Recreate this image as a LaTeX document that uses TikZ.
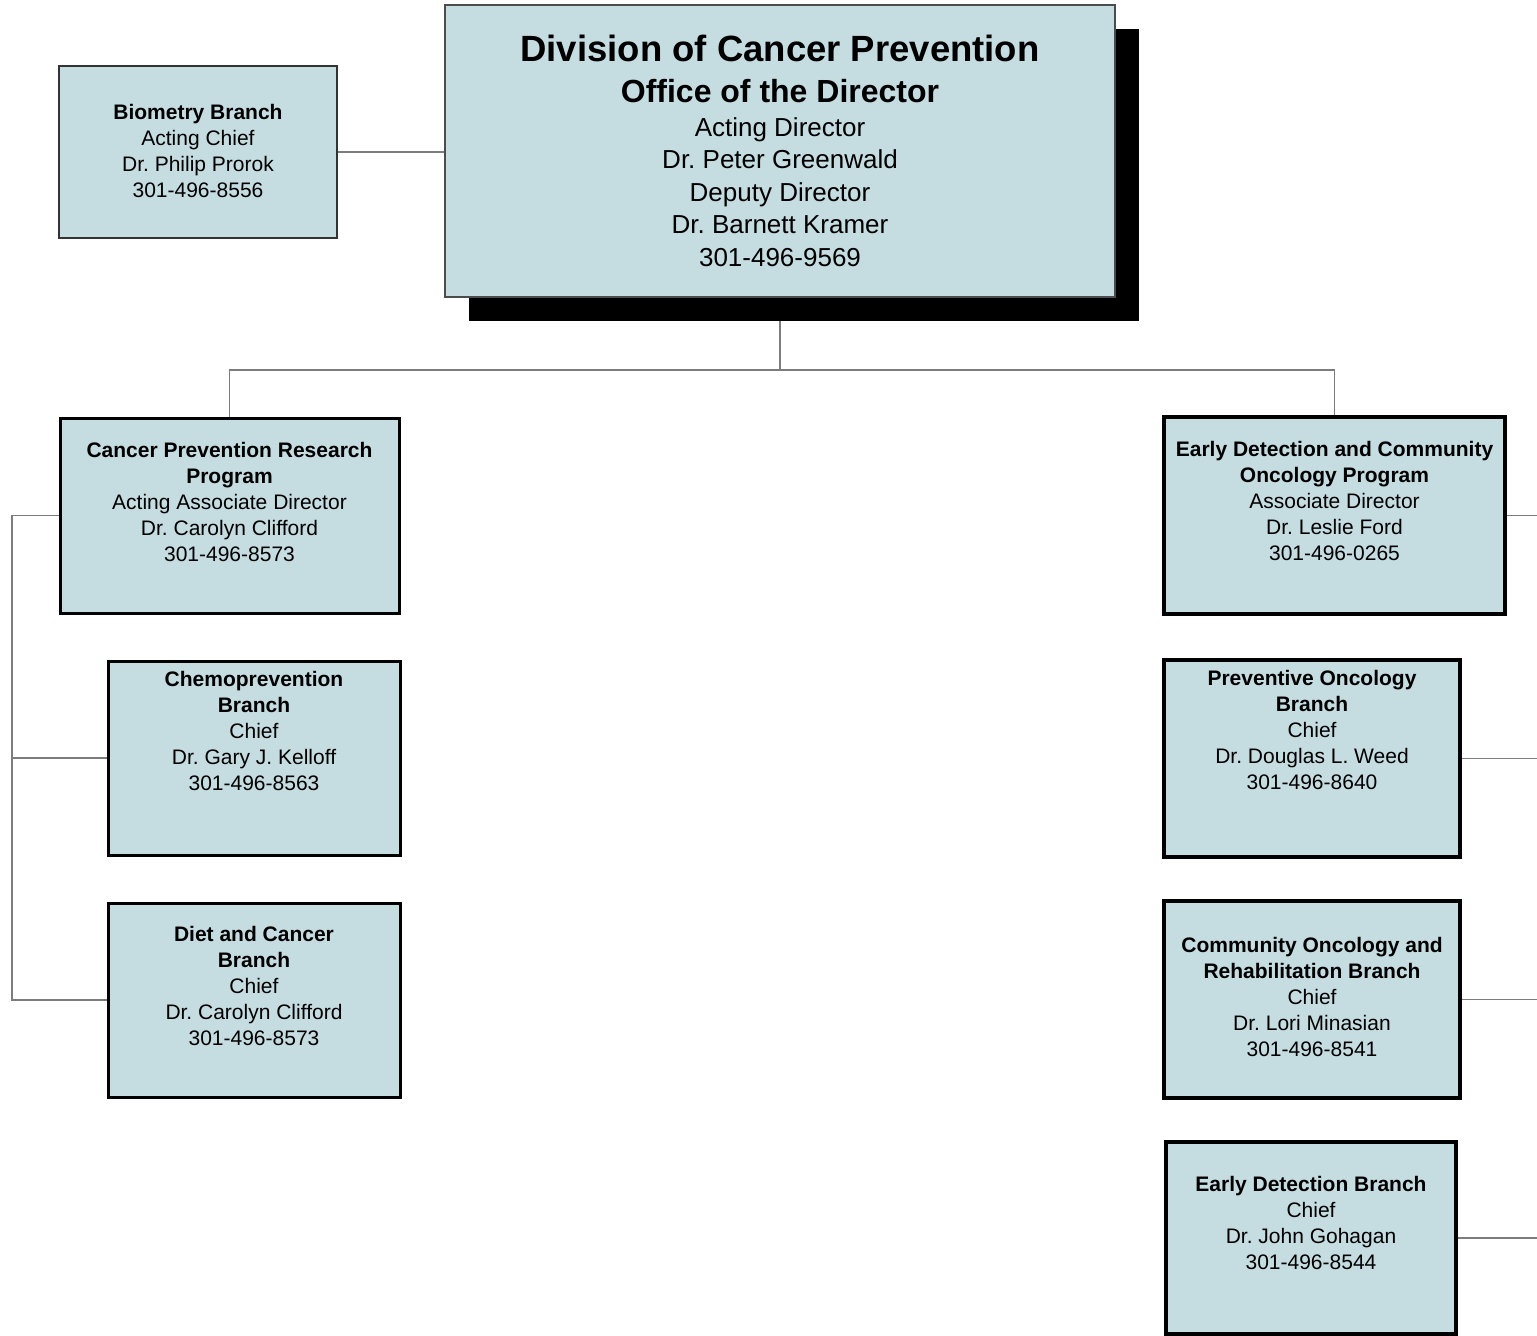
\documentclass[tikz,border=0pt]{standalone}
\usepackage{fontspec}
\setmainfont{Liberation Sans}
\usetikzlibrary{shadows,backgrounds}
\frenchspacing

\definecolor{boxblue}{RGB}{197,220,225}
\definecolor{linkgray}{RGB}{125,125,125}

% box text: width, height, top gap, lines
\newcommand{\orgtext}[4]{\parbox[c][#2][t]{#1}{\centering\vspace*{#3}#4}}

\begin{document}
\begin{tikzpicture}[x=1pt, y=-1pt,
    unit/.style={draw=black, line width=3pt, fill=boxblue, inner sep=0pt,
        font=\fontsize{21}{26}\selectfont},
    office/.style={unit, draw=black!70, line width=2pt,
        drop shadow={shadow xshift=24pt, shadow yshift=-24pt, fill=black, opacity=1}},
    link/.style={draw=linkgray, line width=1.5pt}]
    \useasboundingbox (0,0) rectangle (1537,1336);

    % office of the director
    \node[office] (top) at (780,151) {\orgtext{670pt}{292pt}{30pt}{%
        {\fontsize{36.5}{40}\selectfont\bfseries Division of Cancer Prevention\par}
        {\fontsize{32}{41}\selectfont\bfseries Office of the Director\par}
        {\fontsize{26}{34}\selectfont Acting Director\par}
        {\fontsize{26}{32.5}\selectfont Dr. Peter Greenwald\\ Deputy Director\\
            Dr. Barnett Kramer\\ 301-496-9569\par}}};
    \node[unit, draw=black!80, line width=2pt] (bio) at (198,152) {\orgtext{278pt}{172pt}{38pt}{%
        \textbf{Biometry Branch}\\ Acting Chief\\ Dr. Philip Prorok\\ 301-496-8556}};

    % left side
    \node[unit] (cprp) at (229.5,515.5) {\orgtext{339pt}{195pt}{24pt}{%
        \textbf{Cancer Prevention Research}\\ \textbf{Program}\\ Acting Associate Director\\
        Dr. Carolyn Clifford\\ 301-496-8573}};
    \node[unit] (chemo) at (254,758) {\orgtext{292pt}{194pt}{10pt}{%
        \textbf{Chemoprevention}\\ \textbf{Branch}\\ Chief\\ Dr. Gary J. Kelloff\\ 301-496-8563}};
    \node[unit] (diet) at (254,1000) {\orgtext{292pt}{194pt}{23pt}{%
        \textbf{Diet and Cancer}\\ \textbf{Branch}\\ Chief\\ Dr. Carolyn Clifford\\ 301-496-8573}};

    % right side
    \node[unit, line width=3.5pt] (edcop) at (1334.5,515.5) {\orgtext{341pt}{197pt}{24pt}{%
        \textbf{Early Detection and Community}\\ \textbf{Oncology Program}\\ Associate Director\\
        Dr. Leslie Ford\\ 301-496-0265}};
    \node[unit, line width=3.5pt] (pob) at (1312,758.5) {\orgtext{296pt}{197pt}{10pt}{%
        \textbf{Preventive Oncology}\\ \textbf{Branch}\\ Chief\\ Dr. Douglas L. Weed\\ 301-496-8640}};
    \node[unit, line width=3.5pt] (corb) at (1312,999.5) {\orgtext{296pt}{197pt}{36pt}{%
        \textbf{Community Oncology and}\\ \textbf{Rehabilitation Branch}\\ Chief\\
        Dr. Lori Minasian\\ 301-496-8541}};
    \node[unit, line width=3.5pt] (edb) at (1311,1238) {\orgtext{290pt}{192pt}{34pt}{%
        \textbf{Early Detection Branch}\\ Chief\\ Dr. John Gohagan\\ 301-496-8544}};

    \coordinate (bus) at (780,370);
    \coordinate (lspine) at (12,0);
    \coordinate (rspine) at (1537,0);

    \begin{pgfonlayer}{background}
        \draw[link] (bio.east) -- (bio.east -| top.west);
        \draw[link] (top.south) -- (bus);
        \draw[link] (cprp.north) |- (bus) -| (edcop.north);
        \draw[link] (cprp.west) -- (cprp.west -| lspine) |- (diet.west);
        \draw[link] (chemo.west) -- (chemo.west -| lspine);
        \foreach \n in {edcop, pob, corb, edb}{
            \draw[link] (\n.east) -- (\n.east -| rspine);
        }
    \end{pgfonlayer}
\end{tikzpicture}
\end{document}
